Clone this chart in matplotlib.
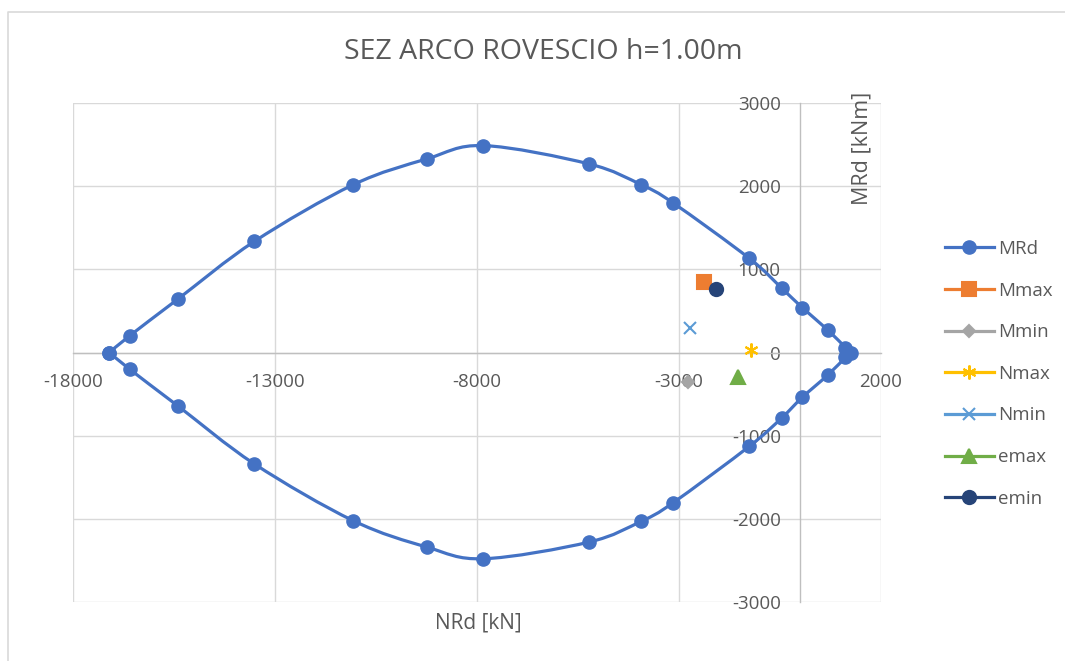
import matplotlib
matplotlib.use("Agg")
import matplotlib.pyplot as plt
from matplotlib.path import Path
from matplotlib.patches import PathPatch
from matplotlib.lines import Line2D
import numpy as np

# Interaction domain of the section (NRd [kN], MRd [kNm])
nrd = [-17100, -16600, -15410, -13510, -11070, -9240, -7840, -5230, -3930, -3150,
       -1260, -460, 50, 680, 1120, 1260,
       1120, 680, 50, -460, -1260, -3150, -3930, -5230, -7840, -9240, -11070,
       -13510, -15410, -16600, -17100]
mrd = [0, 200, 640, 1336, 2016, 2328, 2488, 2268, 2016, 1800,
       1132, 775, 540, 272, 60, 0,
       -60, -272, -540, -788, -1128, -1808, -2028, -2280, -2480, -2340, -2021,
       -1340, -640, -200, 0]

# Design actions
load_names = ["Mmax", "Mmin", "Nmax", "Nmin", "emax", "emin"]
load_n = [-2370, -2780, -1217, -2733, -1538, -2090]
load_m = [852, -350, 30, 296, -300, 768]

x_ticks = [-18000, -13000, -8000, -3000, 2000]
y_ticks = [-3000, -2000, -1000, 0, 1000, 2000, 3000]

TXT = "#595959"
FONT = ["Open Sans", "DejaVu Sans"]
plt.rcParams["font.family"] = FONT
plt.rcParams["axes.unicode_minus"] = False

fig = plt.figure(figsize=(10.65, 6.61), dpi=100)
W, H = 1065, 661
ax = fig.add_axes([73 / W, 1 - 602 / H, (881 - 73) / W, (602 - 103) / H])

ax.set_xlim(-18000, 2000)
ax.set_ylim(-3000, 3000)
ax.set_xticks(x_ticks)
ax.set_yticks(y_ticks)
ax.grid(True, color="#D9D9D9", linewidth=1.0)
ax.set_axisbelow(True)
for s in ("top", "right"):
    ax.spines[s].set_visible(False)
ax.spines["left"].set_position(("data", 0))
ax.spines["bottom"].set_position(("data", 0))
for s in ("left", "bottom"):
    ax.spines[s].set_color("#BFBFBF")
    ax.spines[s].set_linewidth(1.0)
    ax.spines[s].set_zorder(1.5)
ax.tick_params(length=0, labelsize=13.5, labelcolor=TXT)
ax.tick_params(axis="y", pad=14)
ax.tick_params(axis="x", pad=15)

# Smoothed curve through the domain points (cubic Bezier, Catmull-Rom tangents)
pts = np.column_stack([nrd, mrd]).astype(float)
verts = [tuple(pts[0])]
codes = [Path.MOVETO]
n = len(pts)
for i in range(n - 1):
    p0 = pts[i - 1] if i > 0 else pts[i]
    p1 = pts[i]
    p2 = pts[i + 1]
    p3 = pts[i + 2] if i + 2 < n else pts[i + 1]
    c1 = p1 + (p2 - p0) / 6.0
    c2 = p2 - (p3 - p1) / 6.0
    verts += [tuple(c1), tuple(c2), tuple(p2)]
    codes += [Path.CURVE4] * 3
ax.add_patch(PathPatch(Path(verts, codes), facecolor="none",
                       edgecolor="#4472C4", linewidth=2.3, zorder=3))
ax.plot(nrd, mrd, linestyle="none", marker="o", markersize=9.5,
        color="#4472C4", zorder=4)

styles = {
    "Mmax": dict(marker="s", color="#ED7D31", ms=9.5),
    "Mmin": dict(marker="D", color="#A5A5A5", ms=6.5),
    "Nmax": dict(marker=(6, 2, 0), color="#FFC000", ms=10),
    "Nmin": dict(marker="x", color="#5B9BD5", ms=9),
    "emax": dict(marker="^", color="#70AD47", ms=10),
    "emin": dict(marker="o", color="#264478", ms=9.5),
}
for name, xn, ym in zip(load_names, load_n, load_m):
    st = styles[name]
    ax.plot([xn], [ym], linestyle="none", marker=st["marker"], color=st["color"],
            markersize=st["ms"], markeredgewidth=1.5, zorder=5)

# Legend
handles = [Line2D([], [], color="#4472C4", lw=2.3, marker="o", ms=9.5)]
for name in load_names:
    st = styles[name]
    handles.append(Line2D([], [], color=st["color"], lw=2.3, marker=st["marker"],
                          ms=st["ms"], markeredgewidth=1.5))
labels = ["MRd"] + load_names
fig.legend(handles, labels, loc="upper left", bbox_to_anchor=(930 / W, 1 - 225 / H),
           frameon=False, fontsize=13.5, labelcolor=TXT, handlelength=2.6,
           handletextpad=0.25, labelspacing=1.26, borderpad=0.3)

fig.text(543 / W, 1 - 52 / H, "SEZ ARCO ROVESCIO h=1.00m", ha="center", va="center",
         fontsize=20.5, color=TXT)
fig.text(478 / W, 1 - 623 / H, "NRd [kN]", ha="center", va="center",
         fontsize=15, color=TXT)
fig.text(862 / W, 1 - 148 / H, "MRd [kNm]", ha="center", va="center",
         rotation=90, fontsize=15.5, color=TXT)

# Chart area frame
fig.add_artist(Line2D([8 / W, 8 / W, 1.0], [0.0, 1 - 12 / H, 1 - 12 / H],
                      transform=fig.transFigure, color="#D9D9D9", lw=1.2))

fig.savefig("out.png", dpi=100, facecolor="white")
